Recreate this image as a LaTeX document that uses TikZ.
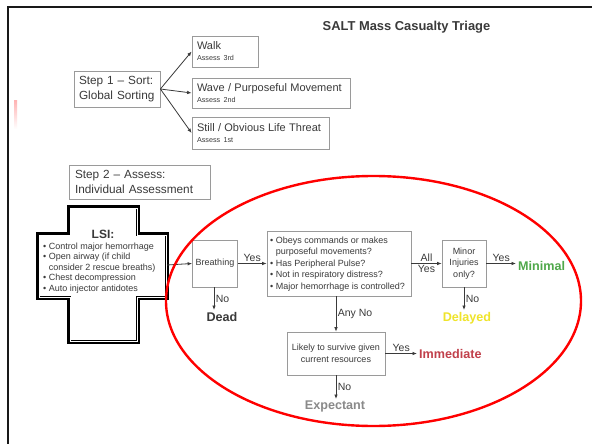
\documentclass[tikz,border=0pt]{standalone}
\usepackage{fontspec}
\setmainfont{Liberation Sans}
\usetikzlibrary{arrows.meta}
\definecolor{ink}{HTML}{3A3A3A}
\definecolor{boxline}{HTML}{9A9A9A}
\definecolor{mingreen}{HTML}{4FA84A}
\definecolor{delyellow}{HTML}{EFE42A}
\definecolor{immred}{HTML}{C1404B}
\definecolor{expgray}{HTML}{8A8A8A}
\newcommand{\bul}{\textbullet\ }
\newcommand{\bulgap}{\phantom{\textbullet\ }}
\newcommand{\sorthead}{\fontsize{11}{12}\selectfont}
\newcommand{\sortnote}{\fontsize{7.2}{8}\selectfont}
\begin{document}
\begin{tikzpicture}[x=1pt,y=-1pt,
  box/.style={draw=boxline, line width=0.8pt, text=ink, inner sep=0pt},
  lbox/.style={box, align=left},
  arr/.style={draw=ink, line width=0.8pt, -{Latex[length=4.5pt,width=3.6pt]}},
  lab/.style={text=ink, font=\fontsize{10.5}{12}\selectfont, inner sep=1.5pt},
  result/.style={font=\bfseries\fontsize{12.6}{14}\selectfont, inner sep=2pt},
  small/.style={font=\fontsize{9}{11.5}\selectfont},
  head/.style={font=\fontsize{11.8}{15.5}\selectfont}
]
\useasboundingbox (0,0) rectangle (592,444);
\fill[white] (0,0) rectangle (592,444);

% page frame (top and left edges) and the pink margin mark
\draw[line width=2.5pt, black!90] (8,444) -- (8,7) -- (592,7);
\shade[top color=red!30, bottom color=white] (14,100) rectangle (17,129);

% title
\node[font=\bfseries\fontsize{12.9}{14}\selectfont, text=ink] (title) at (406.5,27) {SALT Mass Casualty Triage};

% Step 1: global sorting
\node[lbox, head, minimum width=86pt, minimum height=36pt, text width=76pt] (step1) at (117,89)
  {Step 1 -- Sort:\\Global Sorting};
\node[lbox, minimum width=66pt, minimum height=31pt, text width=56pt] (walk) at (225,51.5)
  {{\sorthead Walk}\\[-1pt]{\sortnote Assess 3rd}};
\node[lbox, minimum width=158pt, minimum height=30pt, text width=148pt] (wave) at (271,93)
  {{\sorthead Wave / Purposeful Movement}\\[-1pt]{\sortnote Assess 2nd}};
\node[lbox, minimum width=137pt, minimum height=32pt, text width=127pt] (still) at (260.5,133)
  {{\sorthead Still / Obvious Life Threat}\\[-1pt]{\sortnote Assess 1st}};
\draw[arr] (step1.east) -- (walk.west);
\draw[arr] (step1.east) -- (wave.west);
\draw[arr] (step1.east) -- (still.west);

% Step 2: individual assessment
\node[lbox, head, minimum width=141pt, minimum height=34pt, text width=129pt] (step2) at (139.5,182)
  {Step 2 -- Assess:\\Individual Assessment};

% LSI cross
\draw[line width=4.5pt, black, line join=miter]
  (69,207) -- (138,207) -- (138,234) -- (167,234) -- (167,298) -- (138,298)
  -- (138,342) -- (69,342) -- (69,298) -- (38,298) -- (38,234) -- (69,234) -- cycle;
\draw[line width=0.8pt, white, line join=miter]
  (70.1,208.1) -- (136.9,208.1) -- (136.9,235.1) -- (165.9,235.1) -- (165.9,296.9) -- (136.9,296.9)
  -- (136.9,340.9) -- (70.1,340.9) -- (70.1,296.9) -- (39.1,296.9) -- (39.1,235.1) -- (70.1,235.1) -- cycle;
\node[font=\bfseries\fontsize{12}{14}\selectfont, text=ink, inner sep=0pt] (lsi) at (103,234) {LSI:};
\node[font=\fontsize{9}{10.6}\selectfont, text=ink, align=left, anchor=west, inner sep=0pt] (lsilist) at (43,268)
  {\bul Control major hemorrhage\\
   \bul Open airway (if child\\
   \bulgap consider 2 rescue breaths)\\
   \bul Chest decompression\\
   \bul Auto injector antidotes};
\coordinate (crossE) at (167,265);

% decision boxes
\node[box, small, minimum width=45pt, minimum height=47pt] (breath) at (215,263.5) {Breathing};
\node[box, small, minimum width=144pt, minimum height=65pt] (obeys) at (339,263.5) {};
\node[small, text=ink, align=left, inner sep=0pt, anchor=west] (obeystxt) at (270,264)
  {\bul Obeys commands or makes\\
   \bulgap purposeful movements?\\
   \bul Has Peripheral Pulse?\\
   \bul Not in respiratory distress?\\
   \bul Major hemorrhage is controlled?};
\node[box, small, align=center, minimum width=44pt, minimum height=47pt] (minor) at (464,263.5)
  {Minor\\Injuries\\only?};
\node[box, font=\fontsize{9}{12}\selectfont, align=center, minimum width=98pt, minimum height=43pt] (likely) at (336,353.5)
  {Likely to survive given\\current resources};

% triage categories
\node[result, text=ink, anchor=north] (dead) at (222,310) {Dead};
\node[result, text=mingreen, anchor=west] (minimal) at (516,265.5) {Minimal};
\node[result, text=delyellow, anchor=north] (delayed) at (467,310) {Delayed};
\node[result, text=immred, anchor=west] (immediate) at (417,354) {Immediate};
\node[result, text=expgray, anchor=north] (expectant) at (335,399) {Expectant};

% connectors
\draw[arr] (crossE) -- (breath.west);
\draw[arr] (breath.east) -- node[lab, above] {Yes} (obeys.west |- breath.east);
\draw[arr] (breath.south -| 214,0) -- (dead.north -| 214,0) node[lab, midway, right] {No};
\draw[arr] (obeys.east |- minor.west) -- node[lab, above] {All} node[lab, below] {Yes} (minor.west);
\draw[arr] (minor.east) -- node[lab, above] {Yes} (minimal.west |- minor.east);
\draw[arr] (minor.south) -- (delayed.north -| minor.south) node[lab, midway, right] {No};
\draw[arr] (obeys.south -| likely.north) -- (likely.north) node[lab, midway, right] {Any No};
\draw[arr] (likely.east) -- node[lab, above] {Yes} (immediate.west |- likely.east);
\draw[arr] (likely.south) -- (expectant.north -| likely.south) node[lab, midway, right] {No};

% red ellipse around the assessment flow
\draw[red, line width=2.4pt] (373.5,301) ellipse [x radius=207.5pt, y radius=125pt];
\end{tikzpicture}
\end{document}
